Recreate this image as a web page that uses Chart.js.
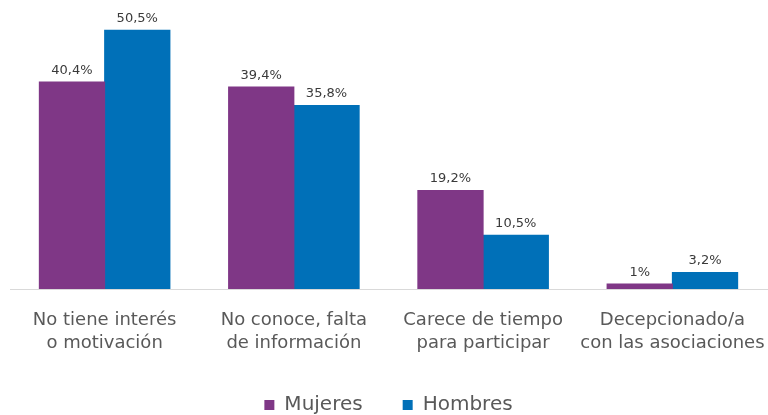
<!DOCTYPE html>
<html>
<head>
<meta charset="utf-8">
<script src="https://cdn.jsdelivr.net/npm/chart.js@4/dist/chart.umd.min.js"></script>
<style>
  html, body { margin: 0; padding: 0; background: #ffffff; }
  #wrap { width: 768px; height: 415px; position: relative; }
</style>
</head>
<body>
<div id="wrap"><canvas id="c" width="768" height="415"></canvas></div>
<script>
const categories = [
  ["No tiene interés", "o motivación"],
  ["No conoce, falta", "de información"],
  ["Carece de tiempo", "para participar"],
  ["Decepcionado/a", "con las asociaciones"]
];
const seriesNames = ["Mujeres", "Hombres"];
const mujeres = [40.4, 39.4, 19.2, 1];
const hombres = [50.5, 35.8, 10.5, 3.2];
const colors = ["#7f3786", "#0070b8"];

const FONT = "'DejaVu Sans', 'Noto Sans', sans-serif";

function fmt(v) { return String(v).replace('.', ',') + '%'; }

const valueLabels = {
  id: 'valueLabels',
  afterDatasetsDraw(chart) {
    const ctx = chart.ctx;
    ctx.save();
    ctx.font = "13px " + FONT;
    ctx.fillStyle = "#3a3a3a";
    ctx.textAlign = "center";
    ctx.textBaseline = "bottom";
    chart.data.datasets.forEach((ds, i) => {
      const meta = chart.getDatasetMeta(i);
      meta.data.forEach((bar, j) => {
        ctx.fillText(fmt(ds.data[j]), bar.x, bar.y - 5);
      });
    });
    ctx.restore();
  }
};

new Chart(document.getElementById('c'), {
  type: 'bar',
  data: {
    labels: categories,
    datasets: [
      { label: seriesNames[0], data: mujeres, backgroundColor: colors[0] },
      { label: seriesNames[1], data: hombres, backgroundColor: colors[1] }
    ]
  },
  options: {
    responsive: false,
    animation: false,
    devicePixelRatio: 1,
    layout: { padding: { left: 10, right: 1, top: 2, bottom: -10 } },
    datasets: { bar: { categoryPercentage: 0.69, barPercentage: 1.0, inflateAmount: 0.5 } },
    scales: {
      x: {
        grid: { display: false, drawTicks: false },
        border: { display: true, color: "#d9d9d9", width: 1 },
        ticks: { color: "#595959", font: { family: FONT, size: 18, lineHeight: 1.28 }, padding: 20, maxRotation: 0, autoSkip: false },
        afterFit(scale) { scale.paddingLeft = 0; scale.paddingRight = 0; scale.height = 66; }
      },
      y: { display: false, min: 0, max: 56 }
    },
    plugins: {
      legend: {
        position: 'bottom',
        labels: {
          color: "#595959",
          font: { family: FONT, size: 20 },
          boxWidth: 10, boxHeight: 10,
          padding: 40
        }
      },
      tooltip: { enabled: false }
    }
  },
  plugins: [valueLabels]
});
</script>
</body>
</html>
